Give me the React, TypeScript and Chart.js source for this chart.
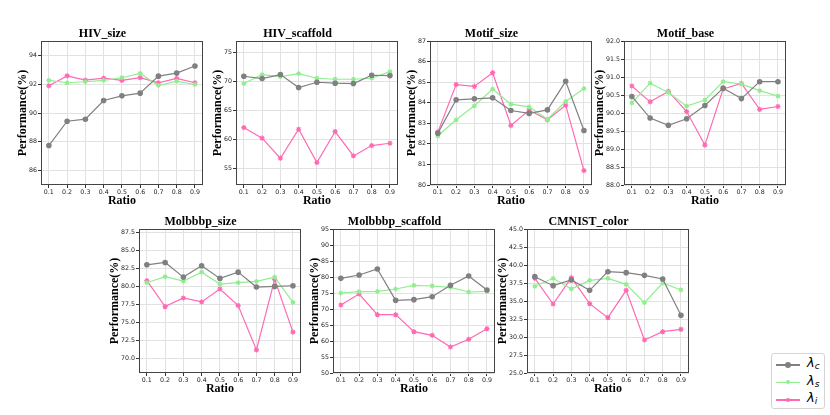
import { useEffect, useRef } from "react";
import { Chart, registerables, type Plugin } from "chart.js";

Chart.register(...registerables);

/* shared x values */
const ratios = [0.1, 0.2, 0.3, 0.4, 0.5, 0.6, 0.7, 0.8, 0.9];

/* HIV_size */
const hivSizeC = [87.74, 89.43, 89.57, 90.87, 91.19, 91.38, 92.56, 92.77, 93.26];
const hivSizeS = [92.26, 92.1, 92.17, 92.26, 92.45, 92.75, 91.91, 92.21, 91.98];
const hivSizeI = [91.89, 92.58, 92.28, 92.42, 92.26, 92.45, 92.1, 92.4, 92.1];
const hivSizeTicks = ["86", "88", "90", "92", "94"];

/* HIV_scaffold */
const hivScafC = [70.9, 70.5, 71.2, 68.95, 69.87, 69.7, 69.64, 71.08, 71.02];
const hivScafS = [69.64, 71.2, 70.85, 71.37, 70.56, 70.39, 70.39, 70.56, 71.71];
const hivScafI = [62.03, 60.19, 56.73, 61.74, 55.98, 61.34, 57.13, 58.92, 59.32];
const hivScafTicks = ["55", "60", "65", "70", "75"];

/* Motif_size */
const motifSizeC = [82.52, 84.14, 84.19, 84.24, 83.62, 83.48, 83.65, 85.04, 82.65];
const motifSizeS = [82.38, 83.17, 83.85, 84.66, 83.93, 83.8, 83.2, 84.06, 84.69];
const motifSizeI = [82.57, 84.88, 84.79, 85.46, 82.89, 83.64, 83.17, 83.88, 80.7];
const motifSizeTicks = ["80", "81", "82", "83", "84", "85", "86", "87"];

/* Motif_base */
const motifBaseC = [90.46, 89.86, 89.66, 89.84, 90.21, 90.69, 90.4, 90.87, 90.87];
const motifBaseS = [90.28, 90.83, 90.57, 90.19, 90.36, 90.87, 90.8, 90.62, 90.47];
const motifBaseI = [90.75, 90.31, 90.6, 90.04, 89.11, 90.67, 90.82, 90.1, 90.18];
const motifBaseTicks = ["88.0", "88.5", "89.0", "89.5", "90.0", "90.5", "91.0", "91.5", "92.0"];

/* Molbbbp_size */
const molSizeC = [83.03, 83.35, 81.32, 82.89, 81.14, 82.01, 79.94, 80.03, 80.12];
const molSizeS = [80.54, 81.37, 80.77, 82.01, 80.35, 80.54, 80.72, 81.32, 77.8];
const molSizeI = [80.82, 77.22, 78.42, 77.87, 79.67, 77.37, 71.2, 81.0, 73.68];
const molSizeTicks = ["70.0", "72.5", "75.0", "77.5", "80.0", "82.5", "85.0", "87.5"];

/* Molbbbp_scaffold */
const molScafC = [79.58, 80.63, 82.5, 72.71, 72.92, 73.85, 77.4, 80.31, 75.94];
const molScafS = [75.0, 75.42, 75.52, 76.25, 77.4, 77.19, 76.77, 75.31, 75.52];
const molScafI = [71.25, 74.69, 68.23, 68.23, 62.92, 61.77, 58.13, 60.52, 63.85];
const molScafTicks = ["50", "55", "60", "65", "70", "75", "80", "85", "90", "95"];

/* CMNIST_color */
const cmnistC = [38.38, 37.13, 37.92, 36.48, 39.07, 38.94, 38.56, 38.06, 33.01];
const cmnistS = [37.04, 38.15, 36.67, 37.87, 38.15, 37.31, 34.77, 37.5, 36.53];
const cmnistI = [38.15, 34.58, 38.24, 34.63, 32.69, 36.48, 29.58, 30.74, 31.06];
const cmnistTicks = ["25.0", "27.5", "30.0", "32.5", "35.0", "37.5", "40.0", "42.5", "45.0"];

const GRAY = "#808080";
const GREEN = "#90ee90";
const PINK = "#ff69b4";

const SERIF = '"Liberation Serif", "Times New Roman", serif';
const SANS = '"DejaVu Sans", sans-serif';

/* plot-area geometry */
const PW = 163;
const PH = 144;
const YW = 40;
const TH = 16;
const XH = 24;
const RP = 4;

type PanelDef = {
  title: string;
  c: number[];
  s: number[];
  i: number[];
  ticks: string[];
  min: number;
  max: number;
  left: number;
  top: number;
};

const PANELS: PanelDef[] = [
  { title: "HIV_size", c: hivSizeC, s: hivSizeS, i: hivSizeI, ticks: hivSizeTicks, min: 85, max: 95, left: 41, top: 41 },
  { title: "HIV_scaffold", c: hivScafC, s: hivScafS, i: hivScafI, ticks: hivScafTicks, min: 52.1, max: 77, left: 236, top: 41 },
  { title: "Motif_size", c: motifSizeC, s: motifSizeS, i: motifSizeI, ticks: motifSizeTicks, min: 80, max: 87, left: 430, top: 41 },
  { title: "Motif_base", c: motifBaseC, s: motifBaseS, i: motifBaseI, ticks: motifBaseTicks, min: 88, max: 92, left: 624, top: 41 },
  { title: "Molbbbp_size", c: molSizeC, s: molSizeS, i: molSizeI, ticks: molSizeTicks, min: 68, max: 88, left: 139, top: 229 },
  { title: "Molbbbp_scaffold", c: molScafC, s: molScafS, i: molScafI, ticks: molScafTicks, min: 50, max: 95, left: 333, top: 229 },
  { title: "CMNIST_color", c: cmnistC, s: cmnistS, i: cmnistI, ticks: cmnistTicks, min: 25, max: 45, left: 527, top: 229 },
];

/* full box around the plot area, like matplotlib spines */
const framePlugin: Plugin<"line"> = {
  id: "frame",
  afterDraw(chart) {
    const { ctx, chartArea: a } = chart;
    ctx.save();
    ctx.strokeStyle = "#444";
    ctx.lineWidth = 1;
    ctx.strokeRect(Math.round(a.left) + 0.5, Math.round(a.top) + 0.5, Math.round(a.width) - 1, Math.round(a.height) - 1);
    ctx.restore();
  },
};

function series(values: number[]) {
  return ratios.map((x, k) => ({ x, y: values[k] }));
}

function Panel({ p }: { p: PanelDef }) {
  const canvasRef = useRef<HTMLCanvasElement>(null);
  const chartRef = useRef<Chart<"line"> | null>(null);

  useEffect(() => {
    if (!canvasRef.current) return;
    chartRef.current?.destroy();

    const tickVals = p.ticks.map(Number);
    // wider tick labels push the y title further out, as matplotlib does
    const wide = p.ticks.some((t) => t.length > 2);
    const yTitleGap = wide ? 24 : 18;

    chartRef.current = new Chart(canvasRef.current, {
      type: "line",
      data: {
        datasets: [
          {
            label: "λc",
            data: series(p.c),
            borderColor: GRAY,
            backgroundColor: GRAY,
            borderWidth: 1.2,
            pointStyle: "circle",
            pointRadius: 2.8,
            pointBorderWidth: 0,
          },
          {
            label: "λs",
            data: series(p.s),
            borderColor: GREEN,
            backgroundColor: GREEN,
            borderWidth: 1.2,
            pointStyle: "star",
            pointRadius: 2.4,
            pointBorderWidth: 1.2,
          },
          {
            label: "λi",
            data: series(p.i),
            borderColor: PINK,
            backgroundColor: PINK,
            borderWidth: 1.2,
            pointStyle: "star",
            pointRadius: 2.6,
            pointBorderWidth: 1.2,
          },
        ],
      },
      options: {
        animation: false,
        responsive: false,
        layout: { padding: { left: 0, right: RP, top: 0, bottom: 0 } },
        plugins: {
          legend: { display: false },
          tooltip: { enabled: false },
          title: {
            display: true,
            text: p.title,
            color: "#000",
            font: { family: SERIF, size: 12, weight: "bold", lineHeight: 1 },
            padding: { top: 3, bottom: 1 },
          },
        },
        scales: {
          x: {
            type: "linear",
            min: 0.057,
            max: 0.943,
            afterBuildTicks: (s) => {
              s.ticks = ratios.map((v) => ({ value: v }));
            },
            afterFit: (s) => {
              s.height = XH;
            },
            ticks: {
              autoSkip: false,
              maxRotation: 0,
              padding: 1,
              color: "#222",
              font: { family: SANS, size: 6.3 },
              callback: (v) => Number(v).toFixed(1),
            },
            grid: { color: "#e2e2e2", tickColor: "#333", tickLength: 3, lineWidth: 1 },
            border: { display: false },
            title: {
              display: true,
              text: "Ratio",
              color: "#000",
              font: { family: SERIF, size: 12, weight: "bold", lineHeight: 1 },
              padding: { top: 0, bottom: 2 },
            },
          },
          y: {
            type: "linear",
            min: p.min,
            max: p.max,
            afterBuildTicks: (s) => {
              s.ticks = tickVals.map((v) => ({ value: v }));
            },
            afterFit: (s) => {
              s.width = YW;
            },
            ticks: {
              autoSkip: false,
              padding: 1,
              color: "#222",
              font: { family: SANS, size: 6.3 },
              callback: (_v, idx) => p.ticks[idx],
            },
            grid: { color: "#e2e2e2", tickColor: "#333", tickLength: 3, lineWidth: 1 },
            border: { display: false },
            title: {
              display: true,
              text: "Performance(%)",
              color: "#000",
              font: { family: SERIF, size: 12, weight: "bold", lineHeight: 1 },
              padding: { top: YW - 6 - yTitleGap, bottom: 0 },
            },
          },
        },
      },
      plugins: [framePlugin],
    });

    return () => {
      chartRef.current?.destroy();
      chartRef.current = null;
    };
  }, [p]);

  const w = YW + PW + RP;
  const h = TH + PH + XH;
  return (
    <canvas
      ref={canvasRef}
      width={w}
      height={h}
      style={{ position: "absolute", left: p.left - YW, top: p.top - TH, width: w, height: h }}
    />
  );
}

const LEGEND = [
  { sub: "c", color: GRAY, dot: 6 },
  { sub: "s", color: GREEN, dot: 4 },
  { sub: "i", color: PINK, dot: 4 },
];

function Legend() {
  return (
    <div
      style={{
        position: "absolute",
        left: 771,
        top: 353,
        width: 54,
        height: 56,
        border: "1px solid #d4d4d4",
        borderRadius: 3,
        background: "#fff",
        boxSizing: "border-box",
        paddingTop: 2,
      }}
    >
      {LEGEND.map((e) => (
        <div key={e.sub} style={{ display: "flex", alignItems: "center", height: 17.5 }}>
          <div style={{ position: "relative", width: 24, height: 1.5, marginLeft: 4, background: e.color }}>
            <div
              style={{
                position: "absolute",
                left: 12 - e.dot / 2,
                top: 0.75 - e.dot / 2,
                width: e.dot,
                height: e.dot,
                borderRadius: "50%",
                background: e.color,
              }}
            />
          </div>
          <span style={{ marginLeft: 7, fontFamily: SANS, fontStyle: "italic", fontSize: 13, lineHeight: "13px", color: "#000" }}>
            λ<sub style={{ fontSize: 9, verticalAlign: "-2px" }}>{e.sub}</sub>
          </span>
        </div>
      ))}
    </div>
  );
}

export default function App() {
  return (
    <div style={{ position: "absolute", left: 0, top: 0, width: 830, height: 415, background: "#fff", overflow: "hidden" }}>
      {PANELS.map((p) => (
        <Panel key={p.title} p={p} />
      ))}
      <Legend />
    </div>
  );
}
